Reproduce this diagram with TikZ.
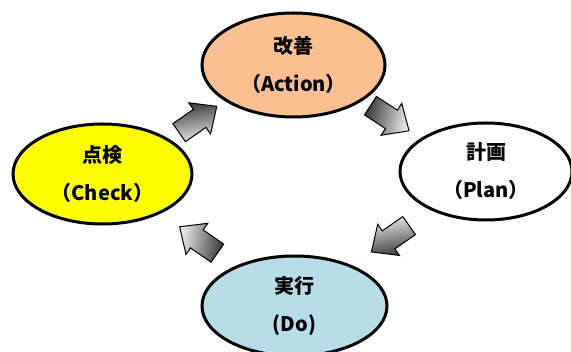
\documentclass[tikz,border=0pt]{standalone}
\usepackage{fontspec}
\setmainfont{Noto Sans CJK JP}
\definecolor{fillAction}{HTML}{FAC090}
\definecolor{fillCheck}{HTML}{FFFF00}
\definecolor{fillPlan}{HTML}{FFFFFF}
\definecolor{fillDo}{HTML}{B7DEE8}
\usepackage{tikz}
\usetikzlibrary{calc, positioning, shapes.geometric}

\tikzset{
  stage/.style={ellipse, draw=black, line width=3pt, inner sep=0pt, align=center,
                font=\fontsize{20}{38}\selectfont\bfseries},
  cyclearrow/.style={draw=black, line width=1pt, line join=miter,
                top color=black!78, bottom color=black!8}
}
% block arrow centred between two stages: #1 from, #2 to, #3 direction, #4 shading angle
\newcommand{\blockarrow}[4]{%
  \path[cyclearrow, shift={($(#1)!0.5!(#2)$)}, rotate=#3, shading angle=#4]
    (-23,-11) -- (2,-11) -- (2,-19) -- (23,0) -- (2,19) -- (2,11) -- (-23,11) -- cycle;}

\begin{document}
\begin{tikzpicture}[x=1pt, y=1pt]
        \useasboundingbox (0,0) rectangle (571,-352);
        % the four stages
        \node[stage, fill=fillAction, minimum width=183pt, minimum height=104pt] (action) at (293.5,-65) {改善\\（Action）};
        \node[stage, fill=fillPlan, minimum width=172pt, minimum height=97pt] (plan) at (486,-171.5) {計画\\（Plan）};
        \node[stage, fill=fillDo, minimum width=185pt, minimum height=100pt] (do) at (294.5,-306) {実行\\(Do)};
        \node[stage, fill=fillCheck, minimum width=179pt, minimum height=100pt] (check) at (102.5,-174) {点検\\（Check）};
        % block arrows between them
        \blockarrow{action}{plan}{-33}{78}
        \blockarrow{plan}{do}{-145}{190}
        \blockarrow{do}{check}{145}{-100}
        \blockarrow{check}{action}{35}{10}
      \end{tikzpicture}
\end{document}
